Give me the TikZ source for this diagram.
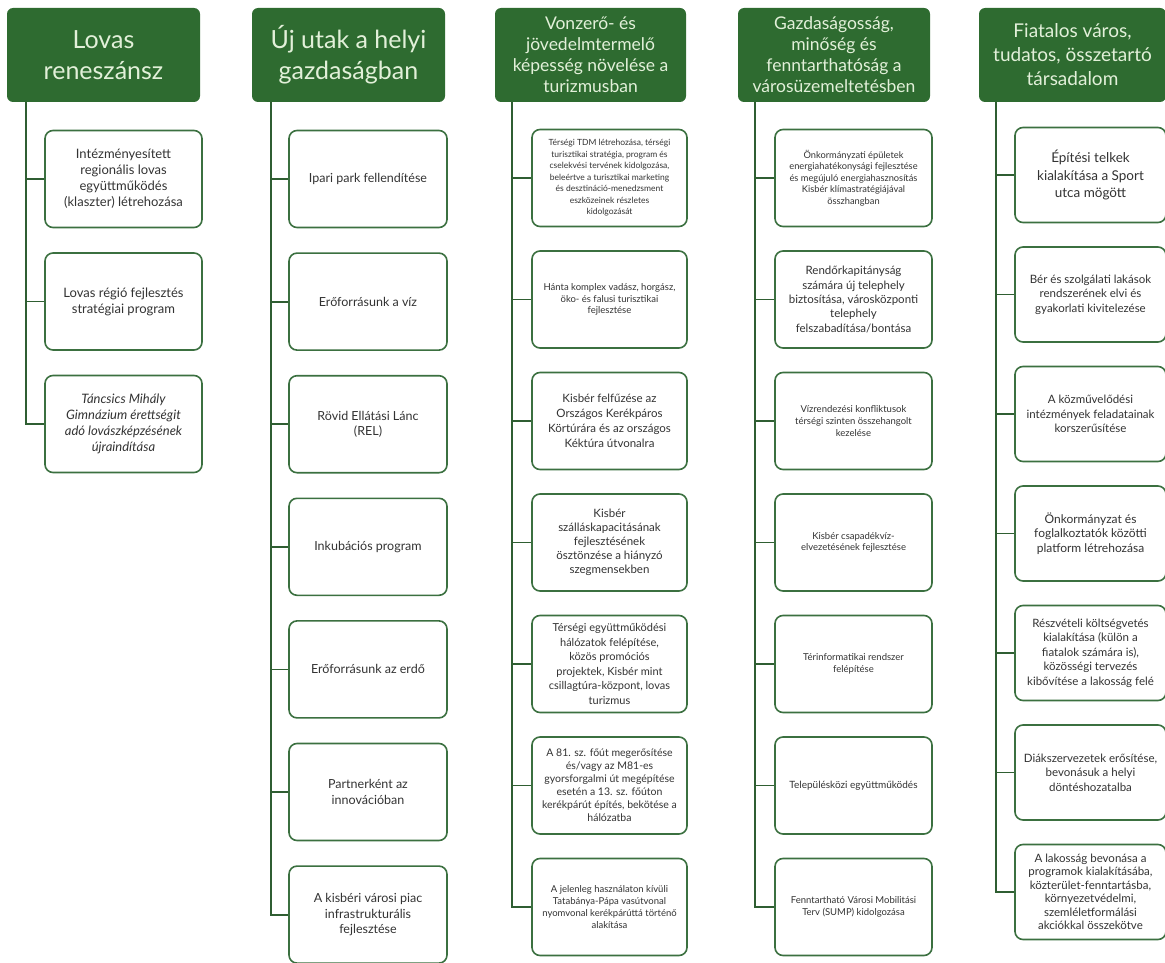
\documentclass[tikz,border=0pt]{standalone}
\usepackage{fontspec}
\setmainfont{Lato}
\definecolor{headgreen}{HTML}{2E6B30}
\definecolor{headtext}{HTML}{E2F0D9}
\definecolor{linegreen}{HTML}{2F5E32}
\definecolor{boxgreen}{HTML}{3B7040}
\newcommand{\fsz}[2]{\fontsize{#1}{#2}\selectfont}
\tikzset{
  head/.style={fill=headgreen, rounded corners=6pt, text=headtext, align=center,
    minimum height=94pt, inner sep=0pt},
  item/.style={draw=boxgreen, line width=1.6pt, rounded corners=8pt, fill=white,
    align=center, minimum height=97pt, text=black!80, inner sep=0pt},
  spine/.style={draw=linegreen, line width=1.8pt},
}
\begin{document}
\begin{tikzpicture}[x=1pt, y=-1pt]
\useasboundingbox (0,0) rectangle (1165,963);
% headers
\node[head, minimum width=193pt, font=\fsz{25}{31}] (hlov) at (103.5,55) {Lovas\\reneszánsz};
\node[head, minimum width=193pt, font=\fsz{25}{31}] (hgaz) at (348.5,55) {Új utak a helyi\\gazdaságban};
\node[head, minimum width=191pt, font=\fsz{17.5}{21}] (htur) at (590.5,55) {Vonzerő- és\\jövedelmtermelő\\képesség növelése a\\turizmusban};
\node[head, minimum width=192pt, font=\fsz{17.5}{21}] (hvar) at (834,55) {Gazdaságosság,\\minőség és\\fenntarthatóság a\\városüzemeltetésben};
\node[head, minimum width=187pt, font=\fsz{19}{24}] (htar) at (1072.5,55) {Fiatalos város,\\tudatos, összetartó\\társadalom};
\coordinate (slov) at (26,102);
\coordinate (sgaz) at (271,102);
\coordinate (stur) at (512,102);
\coordinate (svar) at (755,102);
\coordinate (star) at (996,102);
% Lovas reneszánsz
\node[item, minimum width=157pt, font=\fsz{13}{16}] (lov1) at (123.5,179) {Intézményesített\\regionális lovas\\együttműködés\\(klaszter) létrehozása};
\node[item, minimum width=157pt, font=\fsz{13}{16}] (lov2) at (123.5,301.5) {Lovas régió fejlesztés\\stratégiai program};
\node[item, minimum width=157pt, font=\fsz{13}{16}\itshape] (lov3) at (123.5,424) {Táncsics Mihály\\Gimnázium érettségit\\adó lovászképzésének\\újraindítása};
% helyi gazdasag
\node[item, minimum width=158pt, font=\fsz{12.5}{15.5}] (gaz1) at (368,179) {Ipari park fellendítése};
\node[item, minimum width=158pt, font=\fsz{12.5}{15.5}] (gaz2) at (368,301.6) {Erőforrásunk a víz};
\node[item, minimum width=158pt, font=\fsz{12.5}{15.5}] (gaz3) at (368,424.2) {Rövid Ellátási Lánc\\(REL)};
\node[item, minimum width=158pt, font=\fsz{12.5}{15.5}] (gaz4) at (368,546.8) {Inkubációs program};
\node[item, minimum width=158pt, font=\fsz{12.5}{15.5}] (gaz5) at (368,669.4) {Erőforrásunk az erdő};
\node[item, minimum width=158pt, font=\fsz{12.5}{15.5}] (gaz6) at (368,792) {Partnerként az\\innovációban};
\node[item, minimum width=158pt, font=\fsz{12.5}{15.5}] (gaz7) at (368,914.6) {A kisbéri városi piac\\infrastrukturális\\fejlesztése};
% turizmus
\node[item, minimum width=155pt, font=\fsz{8.5}{11.5}] (tur1) at (609.5,178) {Térségi TDM létrehozása, térségi\\turisztikai stratégia, program és\\cselekvési tervének kidolgozása,\\beleértve a turisztikai marketing\\és desztináció-menedzsment\\eszközeinek részletes\\kidolgozását};
\node[item, minimum width=155pt, font=\fsz{9.5}{11.7}] (tur2) at (609.5,299.5) {Hánta komplex vadász, horgász,\\öko- és falusi turisztikai\\fejlesztése};
\node[item, minimum width=155pt, font=\fsz{11.5}{15}] (tur3) at (609.5,421) {Kisbér felfűzése az\\Országos Kerékpáros\\Körtúrára és az országos\\Kéktúra útvonalra};
\node[item, minimum width=155pt, font=\fsz{11.5}{14}] (tur4) at (609.5,542.5) {Kisbér\\szálláskapacitásának\\fejlesztésének\\ösztönzése a hiányzó\\szegmensekben};
\node[item, minimum width=155pt, font=\fsz{11}{14.5}] (tur5) at (609.5,664) {Térségi együttműködési\\hálózatok felépítése,\\közös promóciós\\projektek, Kisbér mint\\csillagtúra-központ, lovas\\turizmus};
\node[item, minimum width=155pt, font=\fsz{10.5}{13}] (tur6) at (609.5,785.5) {A 81. sz. főút megerősítése\\és/vagy az M81-es\\gyorsforgalmi út megépítése\\esetén a 13. sz. főúton\\kerékpárút építés, bekötése a\\hálózatba};
\node[item, minimum width=155pt, font=\fsz{9.5}{11.8}] (tur7) at (609.5,907) {A jelenleg használaton kívüli\\Tatabánya-Pápa vasútvonal\\nyomvonal kerékpárúttá történő\\alakítása};
% varosuzemeltetes
\node[item, minimum width=157pt, font=\fsz{9.3}{11.5}] (var1) at (853.5,178) {Önkormányzati épületek\\energiahatékonysági fejlesztése\\és megújuló energiahasznosítás\\Kisbér klímastratégiájával\\összhangban};
\node[item, minimum width=157pt, font=\fsz{11.5}{14.3}] (var2) at (853.5,299.5) {Rendőrkapitányság\\számára új telephely\\biztosítása, városközponti\\telephely\\felszabadítása/bontása};
\node[item, minimum width=157pt, font=\fsz{9.5}{11.7}] (var3) at (853.5,421) {Vízrendezési konfliktusok\\térségi szinten összehangolt\\kezelése};
\node[item, minimum width=157pt, font=\fsz{9.5}{11.7}] (var4) at (853.5,542.5) {Kisbér csapadékvíz-\\elvezetésének fejlesztése};
\node[item, minimum width=157pt, font=\fsz{9.5}{11.7}] (var5) at (853.5,664) {Térinformatikai rendszer\\felépítése};
\node[item, minimum width=157pt, font=\fsz{10}{11.7}] (var6) at (853.5,785.5) {Településközi együttműködés};
\node[item, minimum width=157pt, font=\fsz{9.5}{11.7}] (var7) at (853.5,907) {Fenntartható Városi Mobilitási\\Terv (SUMP) kidolgozása};
% tarsadalom
\node[item, minimum width=151pt, minimum height=95pt, font=\fsz{13.5}{17.5}] (tar1) at (1090.5,175) {Építési telkek\\kialakítása a Sport\\utca mögött};
\node[item, minimum width=151pt, minimum height=95pt, font=\fsz{11.5}{14.5}] (tar2) at (1090.5,294.5) {Bér és szolgálati lakások\\rendszerének elvi és\\gyakorlati kivitelezése};
\node[item, minimum width=151pt, minimum height=95pt, font=\fsz{11.5}{14.5}] (tar3) at (1090.5,414) {A közművelődési\\intézmények feladatainak\\korszerűsítése};
\node[item, minimum width=151pt, minimum height=95pt, font=\fsz{12}{14.5}] (tar4) at (1090.5,533.5) {Önkormányzat és\\foglalkoztatók közötti\\platform létrehozása};
\node[item, minimum width=151pt, minimum height=95pt, font=\fsz{11.5}{14.5}] (tar5) at (1090.5,653) {Részvételi költségvetés\\kialakítása (külön a\\fiatalok számára is),\\közösségi tervezés\\kibővítése a lakosság felé};
\node[item, minimum width=151pt, minimum height=95pt, font=\fsz{11.5}{14.5}] (tar6) at (1090.5,772.5) {Diákszervezetek erősítése,\\bevonásuk a helyi\\döntéshozatalba};
\node[item, minimum width=151pt, minimum height=95pt, font=\fsz{11.5}{13.5}] (tar7) at (1090.5,892) {A lakosság bevonása a\\programok kialakításába,\\közterület-fenntartásba,\\környezetvédelmi,\\szemléletformálási\\akciókkal összekötve};
% connectors
\draw[spine] (slov) |- (lov3.west);
\foreach \k in {1,2}
\draw[spine] (slov |- lov\k.west) -- (lov\k.west);
\foreach \c in {gaz,tur,var,tar} {
\draw[spine] (s\c) |- (\c7.west);
\foreach \k in {1,...,6}
\draw[spine] (s\c |- \c\k.west) -- (\c\k.west);
}
\end{tikzpicture}
\end{document}
